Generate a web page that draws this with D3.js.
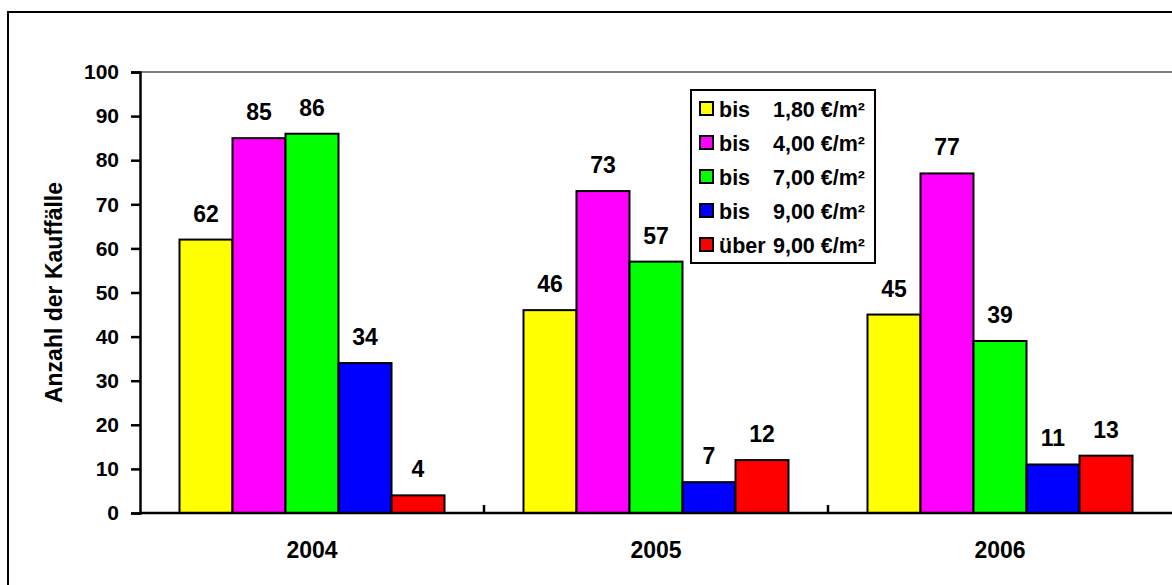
<!DOCTYPE html>
<html>
<head>
<meta charset="utf-8">
<script src="https://cdn.jsdelivr.net/npm/d3@7"></script>
<style>
  html, body { margin: 0; padding: 0; background: #ffffff; }
  svg { display: block; font-family: 'Liberation Sans', Arial, Helvetica, sans-serif; font-weight: bold; }
</style>
</head>
<body>
<svg id="chart"></svg>
<script>
// Chart data
const years = ['2004', '2005', '2006'];
const seriesPrefix = ['bis', 'bis', 'bis', 'bis', 'über'];
const seriesValue = ['1,80 €/m²', '4,00 €/m²', '7,00 €/m²', '9,00 €/m²', '9,00 €/m²'];
const seriesColors = ['#ffff00', '#ff00ff', '#00ff00', '#0000ff', '#ff0000'];
const counts = [
  [62, 46, 45], // bis 1,80
  [85, 73, 77], // bis 4,00
  [86, 57, 39], // bis 7,00
  [34, 7, 11],  // bis 9,00
  [4, 12, 13],  // über 9,00
];
const yTicks = [0, 10, 20, 30, 40, 50, 60, 70, 80, 90, 100];
const yTitle = 'Anzahl der Kauffälle';

const width = 1172;
const height = 585;
const margin = { top: 72, right: 0, bottom: 72, left: 140 };

const svg = d3.select('#chart').attr('width', width).attr('height', height);

// Outer frame (runs off the right and bottom edge)
svg.append('rect')
  .attr('x', 8).attr('y', 12)
  .attr('width', width + 20).attr('height', height + 20)
  .attr('fill', 'none').attr('stroke', '#000').attr('stroke-width', 2);

// Scales
const x0 = d3.scaleBand()
  .domain(years)
  .range([margin.left, width - margin.right])
  .padding(0);

const seriesIdx = d3.range(counts.length);
const x1 = d3.scaleBand()
  .domain(seriesIdx)
  .range([0, x0.bandwidth()])
  .paddingInner(0)
  .paddingOuter(0.745);

const y = d3.scaleLinear()
  .domain([0, 100])
  .range([height - margin.bottom, margin.top]);

// Grey top line of the plot area
svg.append('line')
  .attr('x1', margin.left).attr('x2', width)
  .attr('y1', y(100)).attr('y2', y(100))
  .attr('stroke', '#808080').attr('stroke-width', 2);

// Bars
const flat = [];
seriesIdx.forEach((s) => years.forEach((yr, i) => flat.push({ s, yr, v: counts[s][i] })));

svg.append('g')
  .selectAll('rect')
  .data(flat)
  .enter()
  .append('rect')
  .attr('x', (d) => x0(d.yr) + x1(d.s))
  .attr('y', (d) => y(d.v))
  .attr('width', x1.bandwidth())
  .attr('height', (d) => y(0) - y(d.v))
  .attr('fill', (d) => seriesColors[d.s])
  .attr('stroke', '#000')
  .attr('stroke-width', 2);

// Value labels
svg.append('g')
  .selectAll('text')
  .data(flat)
  .enter()
  .append('text')
  .attr('x', (d) => x0(d.yr) + x1(d.s) + x1.bandwidth() / 2)
  .attr('y', (d) => y(d.v) - 18)
  .attr('text-anchor', 'middle')
  .attr('font-size', 23)
  .text((d) => d.v);

// Y axis
const yAxisGroup = svg.append('g')
  .attr('transform', `translate(${margin.left},0)`)
  .call(d3.axisLeft(y).tickValues(yTicks).tickSize(9).tickPadding(12));
yAxisGroup.select('.domain').attr('stroke', '#000').attr('stroke-width', 2.5);
yAxisGroup.selectAll('.tick line').attr('stroke', '#000').attr('stroke-width', 2.5);
yAxisGroup.selectAll('.tick text')
  .attr('font-size', 21).attr('font-weight', 'bold')
  .attr('font-family', "'Liberation Sans', Arial, sans-serif").attr('fill', '#000');

// X axis with inward ticks at category boundaries
const xAxisGroup = svg.append('g')
  .attr('transform', `translate(0,${y(0)})`);
xAxisGroup.append('line')
  .attr('x1', margin.left).attr('x2', width)
  .attr('stroke', '#000').attr('stroke-width', 2.5);
xAxisGroup.selectAll('.bound')
  .data(years.slice(1))
  .enter()
  .append('line')
  .attr('x1', (d) => x0(d)).attr('x2', (d) => x0(d))
  .attr('y1', 0).attr('y2', -8)
  .attr('stroke', '#000').attr('stroke-width', 2.5);
xAxisGroup.selectAll('.cat')
  .data(years)
  .enter()
  .append('text')
  .attr('x', (d) => x0(d) + x0.bandwidth() / 2)
  .attr('y', 45)
  .attr('text-anchor', 'middle')
  .attr('font-size', 23)
  .text((d) => d);

// Y axis title
svg.append('text')
  .attr('transform', `translate(62,${(y(0) + y(100)) / 2}) rotate(-90)`)
  .attr('text-anchor', 'middle')
  .attr('font-size', 23)
  .text(yTitle);

// Legend
const legend = svg.append('g').attr('transform', 'translate(691,90)');
legend.append('rect')
  .attr('width', 184).attr('height', 173)
  .attr('fill', '#fff').attr('stroke', '#000').attr('stroke-width', 2);

const rows = legend.selectAll('.row')
  .data(seriesIdx)
  .enter()
  .append('g')
  .attr('transform', (d) => `translate(0,${19 + d * 34})`);
rows.append('rect')
  .attr('x', 9).attr('y', -7)
  .attr('width', 13).attr('height', 13)
  .attr('fill', (d) => seriesColors[d])
  .attr('stroke', '#000').attr('stroke-width', 2);
rows.append('text')
  .attr('x', 28).attr('y', 8)
  .attr('font-size', 21.5)
  .text((d) => seriesPrefix[d]);
rows.append('text')
  .attr('x', 174).attr('y', 8)
  .attr('text-anchor', 'end')
  .attr('font-size', 21.5)
  .text((d) => seriesValue[d]);
</script>
</body>
</html>
